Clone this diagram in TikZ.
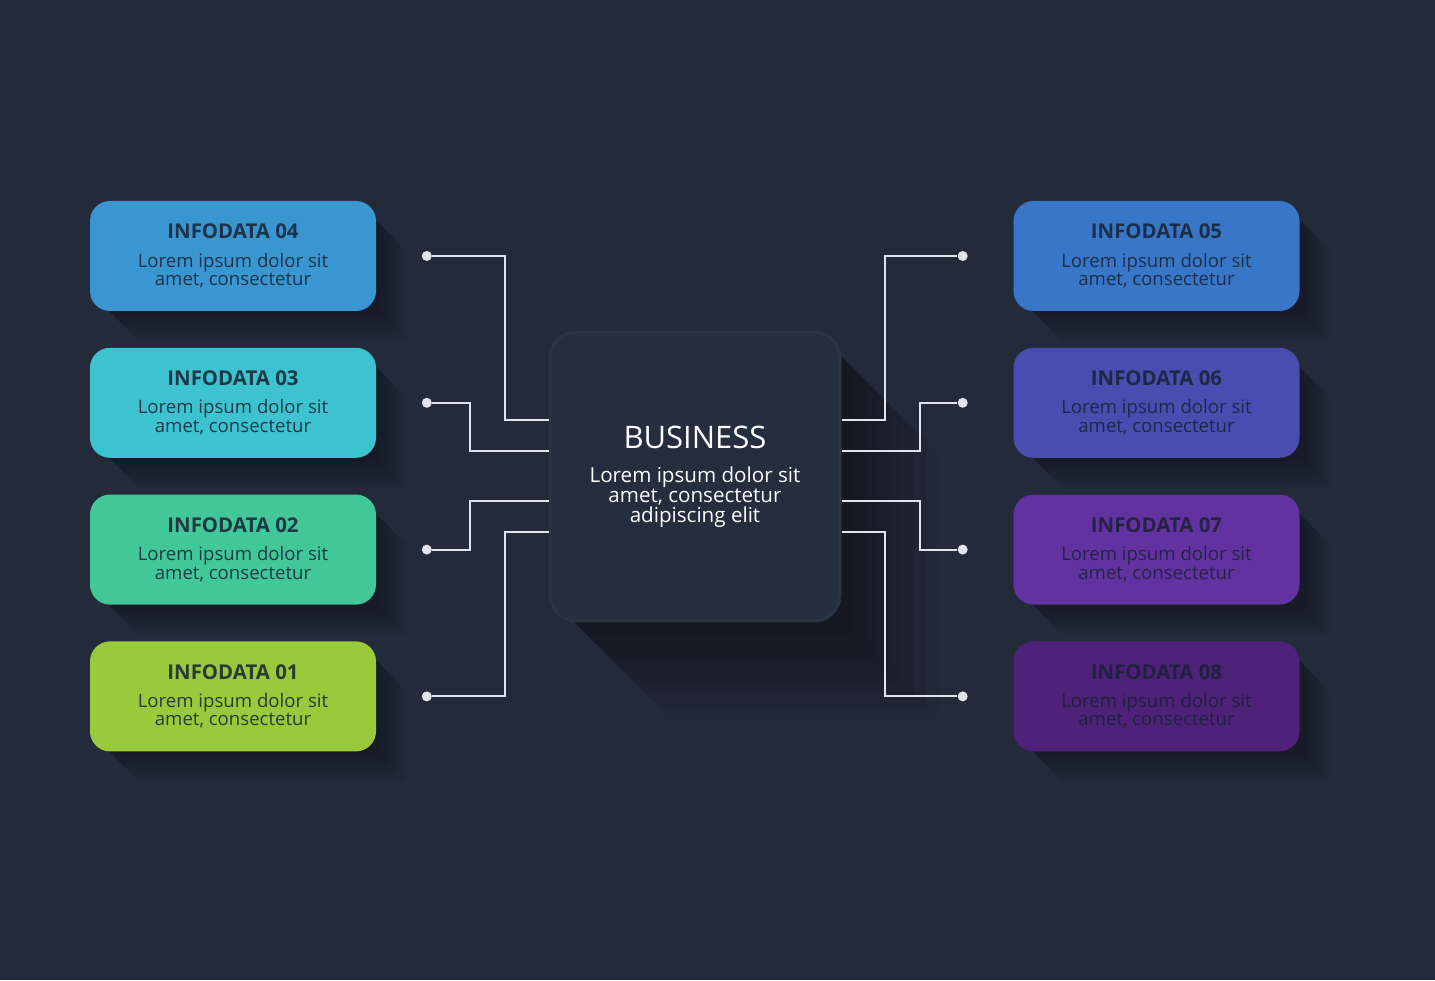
\documentclass[tikz,border=0pt]{standalone}
\usepackage{fontspec}
\setmainfont{Open Sans}
\usetikzlibrary{positioning, backgrounds}

\definecolor{bgdark}{RGB}{35,43,58}
\definecolor{bizfill}{RGB}{37,46,62}
\definecolor{bizedge}{RGB}{42,52,68}
\definecolor{inktext}{RGB}{24,33,52}
\definecolor{wirecol}{RGB}{226,230,236}
\definecolor{infoA}{RGB}{152,202,60}
\definecolor{infoB}{RGB}{66,199,152}
\definecolor{infoC}{RGB}{61,194,207}
\definecolor{infoD}{RGB}{58,150,208}
\definecolor{infoE}{RGB}{56,118,200}
\definecolor{infoF}{RGB}{74,76,176}
\definecolor{infoG}{RGB}{98,50,160}
\definecolor{infoH}{RGB}{78,34,120}

\tikzset{
  infobox/.style={rounded corners=10pt, minimum width=143pt, minimum height=55pt,
    inner sep=0pt, align=center, text=inktext, text opacity=0.85,
    font=\fontsize{9.3}{9.2}\selectfont},
  bizbox/.style={rounded corners=13pt, minimum width=145pt, minimum height=144.5pt,
    inner sep=0pt, align=center, text=white, fill=bizfill, draw=bizedge, line width=1.5pt,
    font=\fontsize{10.3}{10}\selectfont},
  wire/.style={draw=wirecol, line width=1pt},
  pin/.style={circle, fill=wirecol, inner sep=0pt, minimum size=5pt},
}
\newcommand{\infotext}[1]{{\fontsize{10.2}{12}\selectfont\bfseries INFODATA #1}\\[5pt]Lorem ipsum dolor sit\\amet, consectetur}

\begin{document}
\begin{tikzpicture}[x=0.5pt, y=0.5pt]
  \node[infobox, fill=infoD] (b4) at (233,724) {\infotext{04}};
  \node[infobox, fill=infoC, below=18pt of b4] (b3) {\infotext{03}};
  \node[infobox, fill=infoB, below=18pt of b3] (b2) {\infotext{02}};
  \node[infobox, fill=infoA, below=18pt of b2] (b1) {\infotext{01}};
  \node[infobox, fill=infoE] (b5) at (1156.5,724) {\infotext{05}};
  \node[infobox, fill=infoF, below=18pt of b5] (b6) {\infotext{06}};
  \node[infobox, fill=infoG, below=18pt of b6] (b7) {\infotext{07}};
  \node[infobox, fill=infoH, below=18pt of b7] (b8) {\infotext{08}};

  \node[bizbox] (biz) at (695,503.5)
    {{\fontsize{15.5}{18}\selectfont BUSINESS}\\[7pt]Lorem ipsum dolor sit\\amet, consectetur\\adipiscing elit};

  \foreach \i in {1,...,4}
    \node[pin, right=22.5pt of b\i] (p\i) {};
  \foreach \i in {5,...,8}
    \node[pin, left=22.5pt of b\i] (p\i) {};

  \coordinate (l4) at ([yshift=28.25pt]biz.west);
  \coordinate (l3) at ([yshift=12.75pt]biz.west);
  \coordinate (l2) at ([yshift=-12.25pt]biz.west);
  \coordinate (l1) at ([yshift=-27.75pt]biz.west);
  \coordinate (r5) at ([yshift=28.25pt]biz.east);
  \coordinate (r6) at ([yshift=12.75pt]biz.east);
  \coordinate (r7) at ([yshift=-12.25pt]biz.east);
  \coordinate (r8) at ([yshift=-27.75pt]biz.east);

  \draw[wire] (p4) -- ++(78,0) |- (l4);
  \draw[wire] (p3) -- ++(43,0) |- (l3);
  \draw[wire] (p2) -- ++(43,0) |- (l2);
  \draw[wire] (p1) -- ++(78,0) |- (l1);
  \draw[wire] (p5) -- ++(-78,0) |- (r5);
  \draw[wire] (p6) -- ++(-43,0) |- (r6);
  \draw[wire] (p7) -- ++(-43,0) |- (r7);
  \draw[wire] (p8) -- ++(-78,0) |- (r8);

  \begin{scope}[on background layer]
    \fill[bgdark] (0,0) rectangle (1435,980);
    \foreach \n/\len/\r/\o in {b1/30/20/0.04,b2/30/20/0.04,b3/30/20/0.04,b4/30/20/0.04,
        b5/30/20/0.04,b6/30/20/0.04,b7/30/20/0.04,b8/30/20/0.04,biz/96/26/0.055}
      \foreach \k in {1,...,8}
        \fill[black, opacity=\o]
          ([yshift=-\r*0.5pt]\n.north east) -- ([shift={(\k*\len/8,-\k*\len/8-\r)}]\n.north east)
          -- ([shift={(\k*\len/8,-\k*\len/8)}]\n.south east)
          -- ([shift={(\k*\len/8+\r,-\k*\len/8)}]\n.south west)
          -- ([xshift=\r*0.5pt]\n.south west) -- cycle;
  \end{scope}
\end{tikzpicture}
\end{document}
